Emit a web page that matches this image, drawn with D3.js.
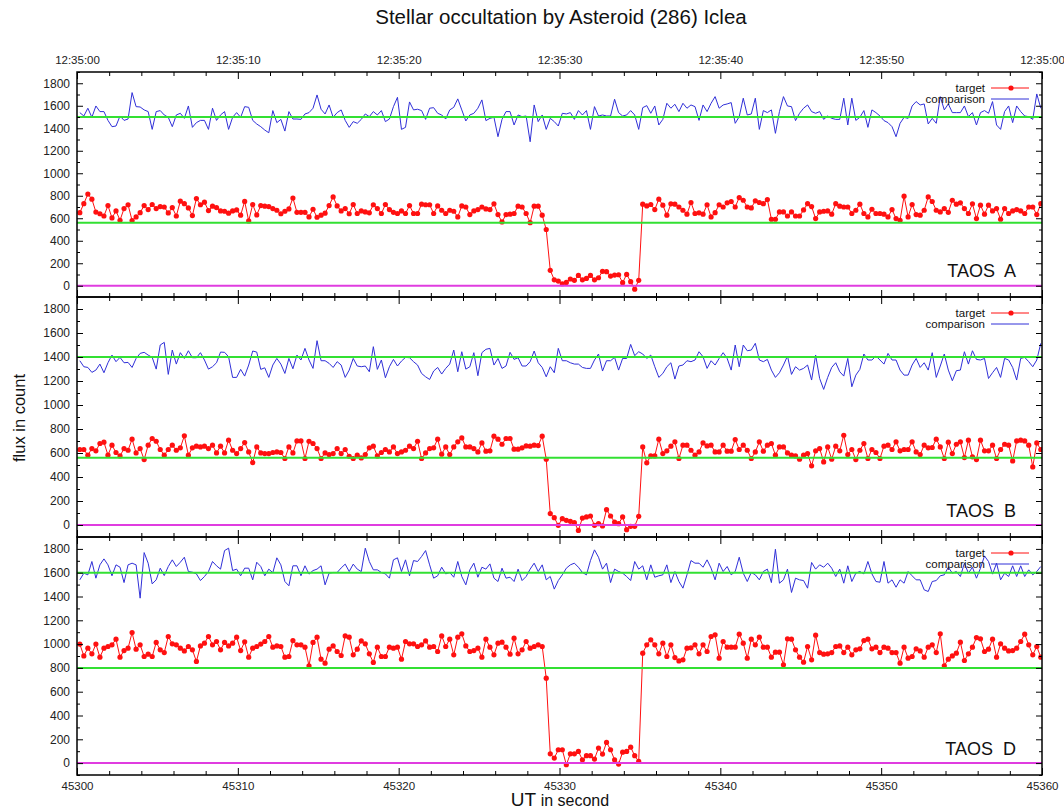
<!DOCTYPE html>
<html>
<head lang="en">
    <meta charset="UTF-8">
    <title>Stellar occultation by Asteroid (286) Iclea</title>
    <style>
        body { margin: 0; background: #fff; }
        svg { font-family: "Liberation Sans", Arial, sans-serif; }
        .axis text { font-size: 11.5px; fill: #222; font-family: "Liberation Sans", Arial, sans-serif; }
        .axis.yl text { font-size: 12px; }
        .axis line { stroke: #000; }
    </style>
</head>
<body>
<svg id="chart" width="1064" height="811"></svg>
<script src="https://d3js.org/d3.v7.min.js" charset="utf-8"></script>
<script>

    // sampling: 4 frames per second
    let timeStart = 45300.175;
    let timeStep = 0.25;

    let xTicks = [45300, 45310, 45320, 45330, 45340, 45350, 45360];
    let xTopLabels = ["12:35:00", "12:35:10", "12:35:20", "12:35:30", "12:35:40", "12:35:50", "12:35:00"];
    let yTicks = [0, 200, 400, 600, 800, 1000, 1200, 1400, 1600, 1800];
    let panelNames = ["TAOS  A", "TAOS  B", "TAOS  D"];
    let seriesNames = ["target", "comparison"];

    // reference levels (green) per telescope, plus the zero level
    let refA = [1500, 560];
    let refB = [1400, 560];
    let refD = [1600, 800];
    let zeroLevel = 0;

    let targetA = [650,730,815,770,655,640,620,713,603,665,582,686,720,580,612,650,713,677,722,686,
        704,700,647,695,620,752,730,692,624,775,720,743,668,707,695,665,662,645,665,674,
        627,750,576,722,630,713,707,704,686,671,640,662,683,780,653,653,653,612,680,609,
        627,645,713,790,710,665,686,640,722,642,665,656,648,720,686,642,722,677,653,642,
        665,642,713,642,642,725,720,720,642,710,671,642,671,662,612,710,700,633,665,677,
        700,683,677,728,633,567,633,636,642,707,700,642,561,707,707,627,500,137,53,42,
        18,30,60,48,92,53,65,92,53,71,128,125,86,95,98,27,101,36,-30,48,
        725,710,722,677,770,716,627,728,725,700,671,636,740,642,648,636,720,612,650,720,
        700,737,749,700,784,760,700,692,755,740,730,766,591,591,656,656,620,656,620,620,
        674,730,704,597,656,662,665,636,730,707,700,700,642,671,725,642,612,680,642,642,
        636,612,677,597,582,796,612,722,633,627,671,790,749,671,656,686,653,760,725,737,
        686,642,728,597,716,636,716,665,686,591,686,642,665,677,665,642,700,700,633,730];

    let compA = [1539,1509,1578,1497,1598,1548,1548,1470,1414,1420,1509,1470,1482,1717,1592,1589,1563,1548,1390,1548,
        1557,1518,1497,1414,1518,1533,1488,1598,1408,1450,1470,1470,1390,1578,1470,1518,1548,1390,1497,1539,
        1497,1592,1586,1470,1438,1414,1384,1360,1557,1450,1479,1375,1548,1482,1482,1479,1527,1539,1578,1696,
        1569,1527,1607,1497,1539,1563,1470,1408,1459,1444,1479,1527,1503,1548,1518,1557,1459,1482,1592,1675,
        1390,1408,1634,1563,1569,1557,1479,1578,1583,1533,1518,1482,1563,1586,1661,1563,1465,1518,1533,1578,
        1652,1468,1488,1497,1325,1479,1548,1548,1429,1518,1503,1509,1280,1607,1459,1518,1390,1488,1459,1420,
        1533,1527,1539,1479,1557,1518,1557,1390,1592,1509,1518,1509,1509,1658,1539,1509,1518,1557,1518,1390,
        1583,1601,1533,1598,1429,1479,1622,1578,1613,1548,1622,1578,1607,1592,1470,1607,1548,1622,1681,1578,
        1607,1616,1628,1444,1503,1667,1518,1527,1667,1390,1557,1539,1563,1355,1548,1681,1598,1592,1468,1533,
        1578,1607,1548,1533,1548,1479,1509,1488,1479,1479,1667,1429,1667,1470,1497,1557,1408,1563,1539,1509,
        1468,1450,1414,1325,1444,1497,1488,1598,1637,1607,1616,1438,1488,1444,1681,1563,1616,1539,1539,1539,
        1598,1503,1539,1429,1539,1557,1533,1637,1429,1390,1548,1598,1450,1598,1548,1509,1503,1479,1705,1578];

    let targetB = [629,629,582,637,618,679,690,582,665,604,576,637,623,715,601,637,545,665,721,698,
        629,582,629,665,623,643,743,582,643,657,651,657,637,665,601,657,601,707,623,595,
        637,687,609,520,651,601,595,595,604,609,604,554,651,601,701,701,554,698,679,637,
        554,601,587,595,637,595,629,573,554,582,559,587,643,657,576,604,629,609,651,595,
        609,623,657,637,698,554,601,637,643,715,590,651,587,651,693,726,651,651,637,609,
        684,615,618,740,715,673,721,721,632,632,643,659,657,665,662,740,548,95,61,-3,
        53,39,31,19,-45,58,67,75,-3,11,-8,128,75,25,11,67,-39,-11,-11,72,
        651,518,576,576,715,595,618,657,693,554,665,665,623,582,609,684,659,665,609,609,
        665,615,615,712,629,665,623,554,609,693,615,665,679,582,651,651,601,582,576,548,
        582,595,493,618,637,526,651,548,657,618,748,587,629,545,623,679,554,629,604,554,
        657,665,629,693,618,629,629,693,609,587,665,643,646,715,651,554,690,595,673,693,
        562,707,568,545,707,618,618,665,554,629,673,665,534,701,707,701,665,484,684,629];

    let compB = [1369,1319,1313,1272,1291,1341,1269,1352,1416,1361,1397,1352,1355,1313,1388,1430,1439,1416,1397,1299,
        1500,1522,1255,1458,1341,1436,1388,1452,1394,1394,1436,1375,1299,1319,1352,1441,1439,1402,1230,1230,
        1297,1241,1333,1450,1441,1297,1310,1230,1333,1388,1341,1263,1388,1302,1416,1375,1472,1375,1305,1536,
        1369,1369,1347,1313,1361,1333,1230,1291,1388,1325,1319,1325,1277,1486,1297,1375,1227,1319,1380,1325,
        1366,1397,1394,1361,1333,1263,1235,1213,1283,1313,1258,1305,1341,1458,1277,1444,1299,1319,1436,1244,
        1436,1464,1472,1333,1388,1305,1325,1439,1380,1394,1325,1325,1361,1450,1352,1313,1235,1319,1269,1472,
        1369,1369,1352,1341,1341,1313,1305,1305,1375,1425,1283,1369,1369,1397,1291,1388,1388,1505,1411,1444,
        1425,1388,1416,1319,1230,1263,1319,1352,1216,1325,1333,1369,1361,1375,1444,1402,1305,1369,1333,1388,
        1436,1388,1291,1500,1319,1500,1452,1458,1514,1375,1361,1380,1291,1230,1269,1333,1408,1255,1319,1291,
        1305,1333,1208,1416,1221,1130,1230,1313,1352,1277,1241,1388,1152,1249,1297,1425,1375,1375,1408,1375,
        1341,1430,1375,1375,1291,1249,1249,1333,1388,1313,1352,1291,1436,1230,1325,1425,1291,1202,1286,1291,
        1444,1341,1452,1380,1375,1388,1221,1269,1313,1230,1388,1375,1313,1208,1388,1397,1361,1319,1375,1514];

    let targetD = [1000,901,966,918,1000,890,966,980,994,1041,890,946,966,1097,957,994,896,915,896,1014,
        952,929,1064,1002,994,966,943,980,952,854,985,1008,1064,994,1022,952,1014,985,1008,1058,
        946,1019,890,966,980,1000,1022,1064,974,985,980,890,896,1030,994,994,974,818,1014,1058,
        873,840,957,985,938,904,1069,1058,910,957,1027,1002,918,846,974,896,896,974,966,974,
        873,1022,1002,1002,980,994,1027,974,980,938,1069,980,1041,910,1058,1086,985,938,946,966,
        890,1041,974,910,1008,1016,974,915,1050,918,952,1022,966,980,994,980,714,78,42,112,
        112,-14,78,78,98,28,62,62,34,126,76,174,112,28,-8,92,98,134,62,14,
        924,994,1036,994,918,1008,896,994,887,859,868,966,969,994,918,994,938,1064,1078,882,
        1022,974,974,974,1083,1008,882,1041,994,1058,974,974,890,932,932,826,1044,1041,952,890,
        848,980,868,1075,929,915,918,929,980,985,929,974,910,952,960,1030,1041,960,974,929,
        974,966,929,929,840,974,882,896,960,943,890,974,994,929,1086,818,873,901,924,1016,
        862,918,974,1055,1044,938,957,1041,890,1002,966,943,946,966,1022,1083,994,910,980,890];

    let compD = [1540,1596,1582,1694,1554,1666,1716,1666,1574,1666,1646,1517,1666,1680,1666,1386,1769,1680,1506,1540,
        1638,1576,1652,1708,1652,1688,1730,1610,1604,1590,1534,1568,1610,1694,1658,1630,1786,1806,1618,1630,
        1574,1638,1638,1540,1688,1652,1574,1630,1600,1725,1666,1526,1490,1658,1658,1574,1658,1588,1618,1630,
        1658,1498,1596,1602,1602,1640,1672,1610,1672,1630,1610,1806,1694,1624,1624,1602,1590,1554,1708,1725,
        1610,1708,1574,1702,1694,1736,1786,1666,1554,1574,1646,1590,1602,1562,1694,1568,1498,1624,1680,1562,
        1646,1630,1674,1554,1526,1638,1554,1562,1526,1630,1534,1568,1630,1680,1610,1666,1540,1568,1462,1534,
        1582,1638,1666,1680,1646,1602,1582,1702,1792,1730,1630,1680,1517,1630,1610,1596,1568,1534,1694,1630,
        1658,1540,1666,1562,1574,1582,1666,1517,1610,1526,1470,1582,1702,1680,1680,1646,1708,1638,1540,1680,
        1610,1652,1582,1610,1730,1596,1526,1602,1582,1540,1610,1630,1517,1797,1512,1540,1630,1434,1554,1540,
        1534,1470,1686,1630,1666,1646,1680,1638,1568,1630,1512,1658,1526,1596,1610,1590,1694,1590,1526,1520,
        1694,1512,1540,1478,1540,1512,1610,1574,1540,1540,1456,1442,1526,1534,1574,1582,1646,1596,1610,1568,
        1680,1596,1646,1554,1638,1741,1694,1588,1680,1540,1596,1568,1658,1568,1658,1568,1624,1582,1610,1652];

    let panels = [
        {name: panelNames[0], target: targetA, comp: compA, refs: refA},
        {name: panelNames[1], target: targetB, comp: compB, refs: refB},
        {name: panelNames[2], target: targetD, comp: compD, refs: refD}
    ];

    // layout
    let left = 77, right = 1042;
    let tops = [72, 297, 537];
    let bottoms = [297, 537, 775];

    let red = "#ff1010", blue = "#3030d8", green = "#33e033", magenta = "#e03ce0";

    let svg = d3.select('#chart');
    let defs = svg.append('defs');

    let x = d3.scaleLinear()
        .domain([45300, 45360])
        .range([left, right]);

    let xMinor = d3.range(45302, 45360, 2).filter(d => d % 10 !== 0);
    let yMinor = d3.range(-100, 1901, 100).filter(d => d % 200 !== 0);

    panels.forEach((p, k) => {
        let y = d3.scaleLinear()
            .domain([-100, 1900])
            .range([bottoms[k], tops[k]]);

        defs.append('clipPath').attr('id', 'clip' + k)
            .append('rect')
            .attr('x', left).attr('y', tops[k])
            .attr('width', right - left).attr('height', bottoms[k] - tops[k]);

        let g = svg.append('g');
        let plot = g.append('g').attr('clip-path', 'url(#clip' + k + ')');

        let line = d3.line()
            .x((d, i) => x(timeStart + i * timeStep))
            .y(d => y(d));

        plot.append('path')
            .datum(p.comp)
            .attr('fill', 'none')
            .attr('stroke', blue)
            .attr('stroke-width', 1)
            .attr('d', line);

        plot.append('path')
            .datum(p.target)
            .attr('fill', 'none')
            .attr('stroke', red)
            .attr('stroke-width', 1)
            .attr('d', line);

        plot.selectAll('circle')
            .data(p.target)
            .join('circle')
            .attr('cx', (d, i) => x(timeStart + i * timeStep))
            .attr('cy', d => y(d))
            .attr('r', 2.6)
            .attr('fill', red);

        plot.selectAll('line.ref')
            .data(p.refs)
            .join('line')
            .attr('class', 'ref')
            .attr('x1', left).attr('x2', right)
            .attr('y1', d => y(d)).attr('y2', d => y(d))
            .attr('stroke', green)
            .attr('stroke-width', 2);

        plot.append('line')
            .attr('x1', left).attr('x2', right)
            .attr('y1', y(zeroLevel)).attr('y2', y(zeroLevel))
            .attr('stroke', magenta)
            .attr('stroke-width', 2);

        // y axes
        g.append('g').attr('class', 'axis yl')
            .attr('transform', 'translate(' + left + ',0)')
            .call(d3.axisLeft(y).tickValues(yTicks).tickSize(-6).tickPadding(7).tickFormat(d3.format('d')))
            .call(a => a.select('.domain').remove());
        g.append('g').attr('class', 'axis')
            .attr('transform', 'translate(' + left + ',0)')
            .call(d3.axisLeft(y).tickValues(yMinor).tickSize(-3).tickFormat(''))
            .call(a => a.select('.domain').remove());
        g.append('g').attr('class', 'axis')
            .attr('transform', 'translate(' + right + ',0)')
            .call(d3.axisRight(y).tickValues(yTicks).tickSize(-6).tickFormat(''))
            .call(a => a.select('.domain').remove());
        g.append('g').attr('class', 'axis')
            .attr('transform', 'translate(' + right + ',0)')
            .call(d3.axisRight(y).tickValues(yMinor).tickSize(-3).tickFormat(''))
            .call(a => a.select('.domain').remove());

        // x axes
        let topAxis = d3.axisTop(x).tickValues(xTicks).tickSize(-7).tickPadding(8)
            .tickFormat((d, i) => k === 0 ? xTopLabels[i] : '');
        g.append('g').attr('class', 'axis')
            .attr('transform', 'translate(0,' + tops[k] + ')')
            .call(topAxis)
            .call(a => a.select('.domain').remove());
        g.append('g').attr('class', 'axis')
            .attr('transform', 'translate(0,' + tops[k] + ')')
            .call(d3.axisTop(x).tickValues(xMinor).tickSize(-4).tickFormat(''))
            .call(a => a.select('.domain').remove());

        let bottomAxis = d3.axisBottom(x).tickValues(xTicks).tickSize(-7).tickPadding(7)
            .tickFormat(d => k === 2 ? d3.format('d')(d) : '');
        g.append('g').attr('class', 'axis')
            .attr('transform', 'translate(0,' + bottoms[k] + ')')
            .call(bottomAxis)
            .call(a => a.select('.domain').remove());
        g.append('g').attr('class', 'axis')
            .attr('transform', 'translate(0,' + bottoms[k] + ')')
            .call(d3.axisBottom(x).tickValues(xMinor).tickSize(-4).tickFormat(''))
            .call(a => a.select('.domain').remove());

        // frame
        g.append('rect')
            .attr('x', left).attr('y', tops[k])
            .attr('width', right - left).attr('height', bottoms[k] - tops[k])
            .attr('fill', 'none')
            .attr('stroke', '#000')
            .attr('stroke-width', 1.5);

        // legend
        let legend = g.append('g').attr('transform', 'translate(0,' + tops[k] + ')');
        seriesNames.forEach((s, j) => {
            let ly = 16 + j * 11;
            legend.append('text')
                .attr('x', 985).attr('y', ly).attr('dy', '0.35em')
                .attr('text-anchor', 'end')
                .attr('font-size', 11.5)
                .attr('fill', '#111')
                .text(s);
            legend.append('line')
                .attr('x1', 991).attr('x2', 1029)
                .attr('y1', ly).attr('y2', ly)
                .attr('stroke', j === 0 ? red : blue)
                .attr('stroke-width', 1);
            if (j === 0) {
                legend.append('circle')
                    .attr('cx', 1011).attr('cy', ly).attr('r', 2.6)
                    .attr('fill', red);
            }
        });

        g.append('text')
            .attr('x', 1016).attr('y', bottoms[k] - 20)
            .attr('text-anchor', 'end')
            .attr('font-size', 18)
            .attr('fill', '#111')
            .style('white-space', 'pre')
            .text(p.name);
    });

    svg.append('text')
        .attr('x', 561).attr('y', 24)
        .attr('text-anchor', 'middle')
        .attr('font-size', 20.5)
        .attr('fill', '#111')
        .text('Stellar occultation by Asteroid (286) Iclea');

    svg.append('text')
        .attr('transform', 'translate(25,418) rotate(-90)')
        .attr('text-anchor', 'middle')
        .attr('font-size', 16.5)
        .attr('fill', '#111')
        .text('flux in count');

    let xlab = svg.append('text')
        .attr('x', 560).attr('y', 806)
        .attr('text-anchor', 'middle')
        .attr('fill', '#111');
    xlab.append('tspan').attr('font-size', 19).text('UT');
    xlab.append('tspan').attr('font-size', 16).text(' in second');

</script>
</body>
</html>
